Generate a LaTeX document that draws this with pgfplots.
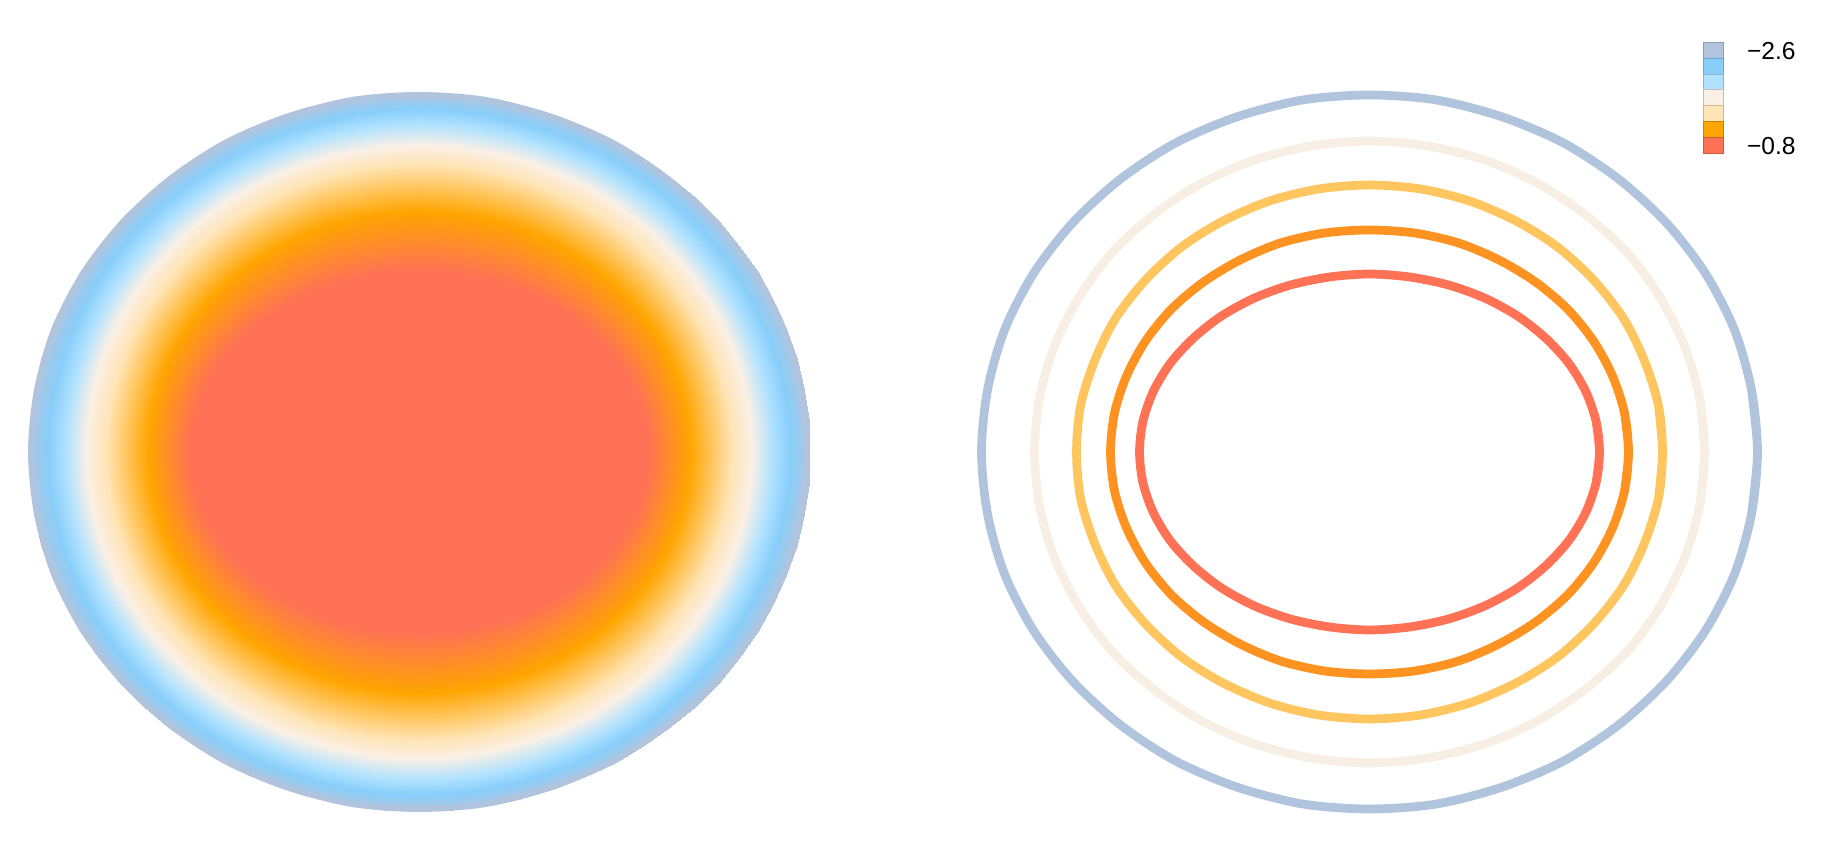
\documentclass[border=0pt]{standalone}
\usepackage{fontspec}
\setmainfont{Liberation Sans}
\usepackage{pgfplots}
\pgfplotsset{compat=1.18}

% seven level colours, outer (low) to inner (high)
\pgfplotsset{colormap={halo}{rgb255(0cm)=(176,196,222); rgb255(1cm)=(135,206,250); rgb255(2cm)=(176,226,255); rgb255(3cm)=(250,240,230); rgb255(4cm)=(255,228,181); rgb255(5cm)=(255,165,0); rgb255(6cm)=(255,114,86)}}

\definecolor{lvA}{HTML}{B0C4DE}
\definecolor{lvB}{HTML}{F7EEE4}
\definecolor{lvC}{HTML}{FFC55E}
\definecolor{lvD}{HTML}{FF9322}
\definecolor{lvE}{HTML}{FF7256}

\pgfplotsset{panel/.style={hide axis, scale only axis, clip=false,
  width=16.8cm, height=16cm, xmin=-420, xmax=420, ymin=-400, ymax=400,
  colormap name=halo, point meta min=0, point meta max=6}}

\begin{document}
\begin{tikzpicture}
\path[use as bounding box] (0,0) rectangle (36.66cm,16.84cm);

% filled field: rings of equal level, 5 degree steps (x,y)[level]
\begin{axis}[panel, at={(8.38cm,7.8cm)}, anchor=center]
\addplot[surf, shader=interp, point meta=explicit, mesh/cols=73, mesh/rows=8] coordinates {
(391,0)[0] (389.5,31.3)[0] (385.1,62.3)[0] (377.7,92.9)[0] (367.4,122.8)[0] (354.4,151.7)[0] (338.6,179.5)[0] (320.3,205.9)[0] (299.5,230.8)[0] (276.5,253.9)[0] (251.3,275)[0] (224.3,294.1)[0] (195.5,310.9)[0] (165.2,325.4)[0] (133.7,337.4)[0] (101.2,346.8)[0] (67.9,353.6)[0] (34.1,357.6)[0] (0,359)[0]
(-34.1,357.6)[0] (-67.9,353.6)[0] (-101.2,346.8)[0] (-133.7,337.4)[0] (-165.2,325.4)[0] (-195.5,310.9)[0] (-224.3,294.1)[0] (-251.3,275)[0] (-276.5,253.9)[0] (-299.5,230.8)[0] (-320.3,205.9)[0] (-338.6,179.5)[0] (-354.4,151.7)[0] (-367.4,122.8)[0] (-377.7,92.9)[0] (-385.1,62.3)[0] (-389.5,31.3)[0] (-391,0)[0]
(-389.5,-31.3)[0] (-385.1,-62.3)[0] (-377.7,-92.9)[0] (-367.4,-122.8)[0] (-354.4,-151.7)[0] (-338.6,-179.5)[0] (-320.3,-205.9)[0] (-299.5,-230.8)[0] (-276.5,-253.9)[0] (-251.3,-275)[0] (-224.3,-294.1)[0] (-195.5,-310.9)[0] (-165.2,-325.4)[0] (-133.7,-337.4)[0] (-101.2,-346.8)[0] (-67.9,-353.6)[0] (-34.1,-357.6)[0] (0,-359)[0]
(34.1,-357.6)[0] (67.9,-353.6)[0] (101.2,-346.8)[0] (133.7,-337.4)[0] (165.2,-325.4)[0] (195.5,-310.9)[0] (224.3,-294.1)[0] (251.3,-275)[0] (276.5,-253.9)[0] (299.5,-230.8)[0] (320.3,-205.9)[0] (338.6,-179.5)[0] (354.4,-151.7)[0] (367.4,-122.8)[0] (377.7,-92.9)[0] (385.1,-62.3)[0] (389.5,-31.3)[0] (391,0)[0]

(371,0)[1] (369.6,29.9)[1] (365.4,59.6)[1] (358.4,88.8)[1] (348.6,117.3)[1] (336.2,145)[1] (321.3,171.5)[1] (303.9,196.7)[1] (284.2,220.5)[1] (262.3,242.5)[1] (238.5,262.8)[1] (212.8,281)[1] (185.5,297.1)[1] (156.8,310.9)[1] (126.9,322.3)[1] (96,331.3)[1] (64.4,337.8)[1] (32.3,341.7)[1] (0,343)[1]
(-32.3,341.7)[1] (-64.4,337.8)[1] (-96,331.3)[1] (-126.9,322.3)[1] (-156.8,310.9)[1] (-185.5,297.1)[1] (-212.8,281)[1] (-238.5,262.8)[1] (-262.3,242.5)[1] (-284.2,220.5)[1] (-303.9,196.7)[1] (-321.3,171.5)[1] (-336.2,145)[1] (-348.6,117.3)[1] (-358.4,88.8)[1] (-365.4,59.6)[1] (-369.6,29.9)[1] (-371,0)[1]
(-369.6,-29.9)[1] (-365.4,-59.6)[1] (-358.4,-88.8)[1] (-348.6,-117.3)[1] (-336.2,-145)[1] (-321.3,-171.5)[1] (-303.9,-196.7)[1] (-284.2,-220.5)[1] (-262.3,-242.5)[1] (-238.5,-262.8)[1] (-212.8,-281)[1] (-185.5,-297.1)[1] (-156.8,-310.9)[1] (-126.9,-322.3)[1] (-96,-331.3)[1] (-64.4,-337.8)[1] (-32.3,-341.7)[1] (0,-343)[1]
(32.3,-341.7)[1] (64.4,-337.8)[1] (96,-331.3)[1] (126.9,-322.3)[1] (156.8,-310.9)[1] (185.5,-297.1)[1] (212.8,-281)[1] (238.5,-262.8)[1] (262.3,-242.5)[1] (284.2,-220.5)[1] (303.9,-196.7)[1] (321.3,-171.5)[1] (336.2,-145)[1] (348.6,-117.3)[1] (358.4,-88.8)[1] (365.4,-59.6)[1] (369.6,-29.9)[1] (371,0)[1]

(353,0)[2] (351.7,28.6)[2] (347.6,57)[2] (341,84.9)[2] (331.7,112.2)[2] (319.9,138.6)[2] (305.7,164)[2] (289.2,188.1)[2] (270.4,210.8)[2] (249.6,231.9)[2] (226.9,251.3)[2] (202.5,268.7)[2] (176.5,284.1)[2] (149.2,297.3)[2] (120.7,308.2)[2] (91.4,316.8)[2] (61.3,323)[2] (30.8,326.8)[2] (0,328)[2]
(-30.8,326.8)[2] (-61.3,323)[2] (-91.4,316.8)[2] (-120.7,308.2)[2] (-149.2,297.3)[2] (-176.5,284.1)[2] (-202.5,268.7)[2] (-226.9,251.3)[2] (-249.6,231.9)[2] (-270.4,210.8)[2] (-289.2,188.1)[2] (-305.7,164)[2] (-319.9,138.6)[2] (-331.7,112.2)[2] (-341,84.9)[2] (-347.6,57)[2] (-351.7,28.6)[2] (-353,0)[2]
(-351.7,-28.6)[2] (-347.6,-57)[2] (-341,-84.9)[2] (-331.7,-112.2)[2] (-319.9,-138.6)[2] (-305.7,-164)[2] (-289.2,-188.1)[2] (-270.4,-210.8)[2] (-249.6,-231.9)[2] (-226.9,-251.3)[2] (-202.5,-268.7)[2] (-176.5,-284.1)[2] (-149.2,-297.3)[2] (-120.7,-308.2)[2] (-91.4,-316.8)[2] (-61.3,-323)[2] (-30.8,-326.8)[2] (0,-328)[2]
(30.8,-326.8)[2] (61.3,-323)[2] (91.4,-316.8)[2] (120.7,-308.2)[2] (149.2,-297.3)[2] (176.5,-284.1)[2] (202.5,-268.7)[2] (226.9,-251.3)[2] (249.6,-231.9)[2] (270.4,-210.8)[2] (289.2,-188.1)[2] (305.7,-164)[2] (319.9,-138.6)[2] (331.7,-112.2)[2] (341,-84.9)[2] (347.6,-57)[2] (351.7,-28.6)[2] (353,0)[2]

(333,0)[3] (331.7,26.8)[3] (327.9,53.3)[3] (321.7,79.5)[3] (312.9,105)[3] (301.8,129.7)[3] (288.4,153.5)[3] (272.8,176.1)[3] (255.1,197.3)[3] (235.5,217.1)[3] (214.1,235.2)[3] (191,251.5)[3] (166.5,265.9)[3] (140.7,278.2)[3] (113.9,288.5)[3] (86.2,296.5)[3] (57.8,302.3)[3] (29,305.8)[3] (0,307)[3]
(-29,305.8)[3] (-57.8,302.3)[3] (-86.2,296.5)[3] (-113.9,288.5)[3] (-140.7,278.2)[3] (-166.5,265.9)[3] (-191,251.5)[3] (-214.1,235.2)[3] (-235.5,217.1)[3] (-255.1,197.3)[3] (-272.8,176.1)[3] (-288.4,153.5)[3] (-301.8,129.7)[3] (-312.9,105)[3] (-321.7,79.5)[3] (-327.9,53.3)[3] (-331.7,26.8)[3] (-333,0)[3]
(-331.7,-26.8)[3] (-327.9,-53.3)[3] (-321.7,-79.5)[3] (-312.9,-105)[3] (-301.8,-129.7)[3] (-288.4,-153.5)[3] (-272.8,-176.1)[3] (-255.1,-197.3)[3] (-235.5,-217.1)[3] (-214.1,-235.2)[3] (-191,-251.5)[3] (-166.5,-265.9)[3] (-140.7,-278.2)[3] (-113.9,-288.5)[3] (-86.2,-296.5)[3] (-57.8,-302.3)[3] (-29,-305.8)[3] (0,-307)[3]
(29,-305.8)[3] (57.8,-302.3)[3] (86.2,-296.5)[3] (113.9,-288.5)[3] (140.7,-278.2)[3] (166.5,-265.9)[3] (191,-251.5)[3] (214.1,-235.2)[3] (235.5,-217.1)[3] (255.1,-197.3)[3] (272.8,-176.1)[3] (288.4,-153.5)[3] (301.8,-129.7)[3] (312.9,-105)[3] (321.7,-79.5)[3] (327.9,-53.3)[3] (331.7,-26.8)[3] (333,0)[3]

(313,0)[4] (311.8,25.1)[4] (308.3,50)[4] (302.3,74.5)[4] (294.1,98.5)[4] (283.7,121.7)[4] (271.1,144)[4] (256.4,165.2)[4] (239.8,185.1)[4] (221.3,203.6)[4] (201.2,220.6)[4] (179.5,235.9)[4] (156.5,249.4)[4] (132.3,261)[4] (107.1,270.6)[4] (81,278.2)[4] (54.4,283.6)[4] (27.3,286.9)[4] (0,288)[4]
(-27.3,286.9)[4] (-54.4,283.6)[4] (-81,278.2)[4] (-107.1,270.6)[4] (-132.3,261)[4] (-156.5,249.4)[4] (-179.5,235.9)[4] (-201.2,220.6)[4] (-221.3,203.6)[4] (-239.8,185.1)[4] (-256.4,165.2)[4] (-271.1,144)[4] (-283.7,121.7)[4] (-294.1,98.5)[4] (-302.3,74.5)[4] (-308.3,50)[4] (-311.8,25.1)[4] (-313,0)[4]
(-311.8,-25.1)[4] (-308.3,-50)[4] (-302.3,-74.5)[4] (-294.1,-98.5)[4] (-283.7,-121.7)[4] (-271.1,-144)[4] (-256.4,-165.2)[4] (-239.8,-185.1)[4] (-221.3,-203.6)[4] (-201.2,-220.6)[4] (-179.5,-235.9)[4] (-156.5,-249.4)[4] (-132.3,-261)[4] (-107.1,-270.6)[4] (-81,-278.2)[4] (-54.4,-283.6)[4] (-27.3,-286.9)[4] (0,-288)[4]
(27.3,-286.9)[4] (54.4,-283.6)[4] (81,-278.2)[4] (107.1,-270.6)[4] (132.3,-261)[4] (156.5,-249.4)[4] (179.5,-235.9)[4] (201.2,-220.6)[4] (221.3,-203.6)[4] (239.8,-185.1)[4] (256.4,-165.2)[4] (271.1,-144)[4] (283.7,-121.7)[4] (294.1,-98.5)[4] (302.3,-74.5)[4] (308.3,-50)[4] (311.8,-25.1)[4] (313,0)[4]

(271,0)[5] (270,21)[5] (266.9,41.9)[5] (261.8,62.4)[5] (254.7,82.4)[5] (245.6,101.9)[5] (234.7,120.5)[5] (222,138.2)[5] (207.6,154.9)[5] (191.6,170.4)[5] (174.2,184.6)[5] (155.4,197.4)[5] (135.5,208.7)[5] (114.5,218.4)[5] (92.7,226.5)[5] (70.1,232.8)[5] (47.1,237.3)[5] (23.6,240.1)[5] (0,241)[5]
(-23.6,240.1)[5] (-47.1,237.3)[5] (-70.1,232.8)[5] (-92.7,226.5)[5] (-114.5,218.4)[5] (-135.5,208.7)[5] (-155.4,197.4)[5] (-174.2,184.6)[5] (-191.6,170.4)[5] (-207.6,154.9)[5] (-222,138.2)[5] (-234.7,120.5)[5] (-245.6,101.9)[5] (-254.7,82.4)[5] (-261.8,62.4)[5] (-266.9,41.9)[5] (-270,21)[5] (-271,0)[5]
(-270,-21)[5] (-266.9,-41.9)[5] (-261.8,-62.4)[5] (-254.7,-82.4)[5] (-245.6,-101.9)[5] (-234.7,-120.5)[5] (-222,-138.2)[5] (-207.6,-154.9)[5] (-191.6,-170.4)[5] (-174.2,-184.6)[5] (-155.4,-197.4)[5] (-135.5,-208.7)[5] (-114.5,-218.4)[5] (-92.7,-226.5)[5] (-70.1,-232.8)[5] (-47.1,-237.3)[5] (-23.6,-240.1)[5] (0,-241)[5]
(23.6,-240.1)[5] (47.1,-237.3)[5] (70.1,-232.8)[5] (92.7,-226.5)[5] (114.5,-218.4)[5] (135.5,-208.7)[5] (155.4,-197.4)[5] (174.2,-184.6)[5] (191.6,-170.4)[5] (207.6,-154.9)[5] (222,-138.2)[5] (234.7,-120.5)[5] (245.6,-101.9)[5] (254.7,-82.4)[5] (261.8,-62.4)[5] (266.9,-41.9)[5] (270,-21)[5] (271,0)[5]

(229,0)[6] (228.1,15.8)[6] (225.5,31.4)[6] (221.2,46.8)[6] (215.2,61.9)[6] (207.5,76.5)[6] (198.3,90.5)[6] (187.6,103.8)[6] (175.4,116.3)[6] (161.9,128)[6] (147.2,138.7)[6] (131.3,148.3)[6] (114.5,156.8)[6] (96.8,164)[6] (78.3,170.1)[6] (59.3,174.8)[6] (39.8,178.3)[6] (20,180.3)[6] (0,181)[6]
(-20,180.3)[6] (-39.8,178.3)[6] (-59.3,174.8)[6] (-78.3,170.1)[6] (-96.8,164)[6] (-114.5,156.8)[6] (-131.3,148.3)[6] (-147.2,138.7)[6] (-161.9,128)[6] (-175.4,116.3)[6] (-187.6,103.8)[6] (-198.3,90.5)[6] (-207.5,76.5)[6] (-215.2,61.9)[6] (-221.2,46.8)[6] (-225.5,31.4)[6] (-228.1,15.8)[6] (-229,0)[6]
(-228.1,-15.8)[6] (-225.5,-31.4)[6] (-221.2,-46.8)[6] (-215.2,-61.9)[6] (-207.5,-76.5)[6] (-198.3,-90.5)[6] (-187.6,-103.8)[6] (-175.4,-116.3)[6] (-161.9,-128)[6] (-147.2,-138.7)[6] (-131.3,-148.3)[6] (-114.5,-156.8)[6] (-96.8,-164)[6] (-78.3,-170.1)[6] (-59.3,-174.8)[6] (-39.8,-178.3)[6] (-20,-180.3)[6] (0,-181)[6]
(20,-180.3)[6] (39.8,-178.3)[6] (59.3,-174.8)[6] (78.3,-170.1)[6] (96.8,-164)[6] (114.5,-156.8)[6] (131.3,-148.3)[6] (147.2,-138.7)[6] (161.9,-128)[6] (175.4,-116.3)[6] (187.6,-103.8)[6] (198.3,-90.5)[6] (207.5,-76.5)[6] (215.2,-61.9)[6] (221.2,-46.8)[6] (225.5,-31.4)[6] (228.1,-15.8)[6] (229,0)[6]

(0,0)[6] (0,0)[6] (0,0)[6] (0,0)[6] (0,0)[6] (0,0)[6] (0,0)[6] (0,0)[6] (0,0)[6] (0,0)[6] (0,0)[6] (0,0)[6] (0,0)[6] (0,0)[6] (0,0)[6] (0,0)[6] (0,0)[6] (0,0)[6] (0,0)[6]
(0,0)[6] (0,0)[6] (0,0)[6] (0,0)[6] (0,0)[6] (0,0)[6] (0,0)[6] (0,0)[6] (0,0)[6] (0,0)[6] (0,0)[6] (0,0)[6] (0,0)[6] (0,0)[6] (0,0)[6] (0,0)[6] (0,0)[6] (0,0)[6]
(0,0)[6] (0,0)[6] (0,0)[6] (0,0)[6] (0,0)[6] (0,0)[6] (0,0)[6] (0,0)[6] (0,0)[6] (0,0)[6] (0,0)[6] (0,0)[6] (0,0)[6] (0,0)[6] (0,0)[6] (0,0)[6] (0,0)[6] (0,0)[6]
(0,0)[6] (0,0)[6] (0,0)[6] (0,0)[6] (0,0)[6] (0,0)[6] (0,0)[6] (0,0)[6] (0,0)[6] (0,0)[6] (0,0)[6] (0,0)[6] (0,0)[6] (0,0)[6] (0,0)[6] (0,0)[6] (0,0)[6] (0,0)[6]
};
% rim at the lowest level
\addplot[lvA, smooth, line width=0.12cm] coordinates {
(382,-62) (388,0) (382,62) (365,122) (336,178.5) (297,229) (249,273) (194,309) (133,335) (67,352) (0,357)
(-67,352) (-133,335) (-194,309) (-249,273) (-297,229) (-336,178.5) (-365,122) (-382,62) (-388,0)
(-382,-62) (-365,-122) (-336,-178.5) (-297,-229) (-249,-273) (-194,-309) (-133,-335) (-67,-352) (0,-357)
(67,-352) (133,-335) (194,-309) (249,-273) (297,-229) (336,-178.5) (365,-122) (382,-62) (388,0) (382,62)};
\end{axis}

% contour lines
\begin{axis}[panel, at={(27.39cm,7.8cm)}, anchor=center]
\pgfplotsset{every axis plot/.append style={smooth, line width=0.175cm, line join=round, line cap=round}}
\addplot[lvA] coordinates {
(382,-62) (388,0) (382,62) (365,122) (336,178.5) (297,229) (249,273) (194,309) (133,335) (67,352) (0,357)
(-67,352) (-133,335) (-194,309) (-249,273) (-297,229) (-336,178.5) (-365,122) (-382,62) (-388,0)
(-382,-62) (-365,-122) (-336,-178.5) (-297,-229) (-249,-273) (-194,-309) (-133,-335) (-67,-352) (0,-357)
(67,-352) (133,-335) (194,-309) (249,-273) (297,-229) (336,-178.5) (365,-122) (382,-62) (388,0) (382,62)};
\addplot[lvB] coordinates {
(330,-54) (335,0) (330,54) (315,106) (290,155.5) (257,200) (215,238) (167.5,269) (115,292) (58,306) (0,311)
(-58,306) (-115,292) (-167.5,269) (-215,238) (-257,200) (-290,155.5) (-315,106) (-330,54) (-335,0)
(-330,-54) (-315,-106) (-290,-155.5) (-257,-200) (-215,-238) (-167.5,-269) (-115,-292) (-58,-306) (0,-311)
(58,-306) (115,-292) (167.5,-269) (215,-238) (257,-200) (290,-155.5) (315,-106) (330,-54) (335,0) (330,54)};
\addplot[lvC] coordinates {
(289,-46) (293,0) (289,46) (275,91) (254,133.5) (224,172) (188,205) (146.5,231) (100,251) (51,263) (0,267)
(-51,263) (-100,251) (-146.5,231) (-188,205) (-224,172) (-254,133.5) (-275,91) (-289,46) (-293,0)
(-289,-46) (-275,-91) (-254,-133.5) (-224,-172) (-188,-205) (-146.5,-231) (-100,-251) (-51,-263) (0,-267)
(51,-263) (100,-251) (146.5,-231) (188,-205) (224,-172) (254,-133.5) (275,-91) (289,-46) (293,0) (289,46)};
\addplot[lvD] coordinates {
(255,-39) (259,0) (255,39) (243,76) (224,111) (198,143) (166,170) (129.5,192) (89,209) (45,219) (0,222)
(-45,219) (-89,209) (-129.5,192) (-166,170) (-198,143) (-224,111) (-243,76) (-255,39) (-259,0)
(-255,-39) (-243,-76) (-224,-111) (-198,-143) (-166,-170) (-129.5,-192) (-89,-209) (-45,-219) (0,-222)
(45,-219) (89,-209) (129.5,-192) (166,-170) (198,-143) (224,-111) (243,-76) (255,-39) (259,0) (255,39)};
\addplot[lvE] coordinates {
(226.5,-31) (230,0) (226.5,31) (216,61) (199,89) (176,114) (148,136) (115,154) (79,167) (40,175) (0,178)
(-40,175) (-79,167) (-115,154) (-148,136) (-176,114) (-199,89) (-216,61) (-226.5,31) (-230,0)
(-226.5,-31) (-216,-61) (-199,-89) (-176,-114) (-148,-136) (-115,-154) (-79,-167) (-40,-175) (0,-178)
(40,-175) (79,-167) (115,-154) (148,-136) (176,-114) (199,-89) (216,-61) (226.5,-31) (230,0) (226.5,31)};
\end{axis}

% legend key
\begin{axis}[at={(34.054cm,13.786cm)}, anchor=south west, scale only axis, clip=false,
  width=0.4cm, height=2.214cm, xmin=0, xmax=1, ymin=-2.75, ymax=-0.65, y dir=reverse,
  axis line style={draw=none}, xtick=\empty, ytick={-2.6,-0.8}, yticklabels={−2.6,−0.8},
  yticklabel pos=right, ytick style={draw=none},
  yticklabel style={anchor=west, inner sep=0pt, xshift=0.48cm, yshift=-0.03cm, font=\fontsize{14}{16}\selectfont},
  colormap name=halo, point meta min=0, point meta max=6]
\addplot[scatter, only marks, mark=square*, mark size=4.5pt, point meta=explicit,
  mark options={xscale=1.265, line width=0.1pt}] coordinates {
(0.5,-2.6)[0] (0.5,-2.3)[1] (0.5,-2.0)[2] (0.5,-1.7)[3] (0.5,-1.4)[4] (0.5,-1.1)[5] (0.5,-0.8)[6]};
\end{axis}
\end{tikzpicture}
\end{document}
